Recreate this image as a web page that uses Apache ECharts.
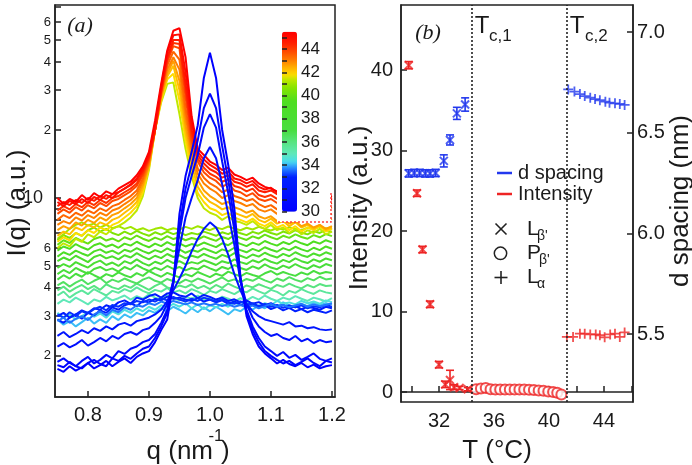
<!DOCTYPE html>
<html><head><meta charset="utf-8">
<script src="https://cdn.jsdelivr.net/npm/echarts@6/dist/echarts.min.js"></script>
<style>html,body{margin:0;padding:0;background:#fff}#c{width:692px;height:465px}</style>
</head><body><div id="c"></div>
<script>
// ---------- panel (a): I(q) curves ----------
const q = [0.75,0.76,0.77,0.78,0.79,0.80,0.81,0.82,0.83,0.84,0.85,0.86,0.87,0.88,0.89,0.90,0.91,0.92,0.93,0.94,0.95,0.96,0.97,0.98,0.99,1.00,1.01,1.02,1.03,1.04,1.05,1.06,1.07,1.08,1.09,1.10,1.11,1.12,1.13,1.14,1.15,1.16,1.17,1.18,1.19,1.20];

const I29_8 = [1.75,1.70,1.80,1.72,1.78,1.86,1.76,1.82,1.90,1.80, 1.88,1.95,1.86,1.98,2.05,2.10,2.30,2.60,2.90,4.20, 8.5,12.5,16,21,34,44,34,20,14,9.0, 4.5,3.0,2.5,2.2,2.05,1.95,1.85,1.92,1.84,1.80, 1.86,1.78,1.83,1.76,1.80,1.82];
const I30_4 = [1.82,1.78,1.88,1.80,1.76,1.86,1.92,1.84,1.80,1.95, 1.90,2.00,1.94,2.05,2.15,2.20,2.40,2.70,3.10,4.20, 7.5,11.0,14.0,18.0,25.0,29.0,25.0,17.0,12.0,8.0, 4.4,3.1,2.6,2.3,2.1,2.0,1.92,1.85,1.90,1.82, 1.88,1.95,1.86,1.80,1.90,1.87];
const I30_8 = [1.88,1.95,1.86,1.80,1.90,1.98,1.85,1.92,2.02,1.95, 2.10,2.04,2.15,2.20,2.30,2.35,2.50,2.80,3.20,4.30, 7.0,10.0,12.5,15.5,20.5,23.5,20.5,14.5,10.5,7.2, 4.3,3.2,2.7,2.4,2.2,2.1,2.0,2.08,1.96,2.02, 1.92,1.98,2.05,1.94,1.90,1.95];
const I31_3 = [2.20,2.28,2.18,2.25,2.35,2.22,2.30,2.40,2.32,2.45, 2.38,2.50,2.55,2.48,2.60,2.65,2.80,3.00,3.40,4.30, 6.0,8.2,10.0,12.0,15.0,16.8,15.0,11.5,8.5,6.2, 4.3,3.4,2.95,2.7,2.55,2.45,2.50,2.40,2.35,2.45, 2.32,2.38,2.28,2.35,2.30,2.32];
const I31_85 = [2.45,2.55,2.42,2.50,2.60,2.52,2.65,2.58,2.70,2.62, 2.75,2.80,2.72,2.85,2.90,2.95,3.05,3.20,3.50,3.90, 4.40,5.00,5.80,6.60,7.30,7.80,7.40,6.60,5.60,4.60, 3.90,3.40,3.15,3.00,2.90,2.85,2.80,2.75,2.82,2.70, 2.72,2.65,2.68,2.62,2.60,2.62];
const I32_4 = [3.00,3.10,2.95,3.05,3.18,3.10,3.25,3.20,3.35,3.28, 3.45,3.52,3.40,3.62,3.55,3.68,3.75,3.62,3.78,3.82, 3.70,3.65,3.78,3.60,3.72,3.65,3.55,3.62,3.50,3.56, 3.45,3.52,3.40,3.46,3.35,3.42,3.30,3.36,3.25,3.32, 3.22,3.30,3.26,3.20,3.30,3.25];
const I32_7 = [2.90,2.80,2.95,3.05,2.92,3.10,3.02,3.18,3.10,3.28, 3.20,3.35,3.42,3.32,3.50,3.45,3.58,3.52,3.66,3.58, 3.62,3.55,3.50,3.60,3.48,3.55,3.45,3.52,3.40,3.48, 3.38,3.30,3.40,3.28,3.35,3.22,3.30,3.18,3.26,3.15, 3.22,3.12,3.20,3.15,3.10,3.18];
const I33_1 = [3.05,2.95,3.12,3.00,3.15,3.08,3.22,3.30,3.18,3.36, 3.30,3.42,3.38,3.50,3.45,3.55,3.48,3.60,3.52,3.65, 3.55,3.48,3.58,3.50,3.62,3.55,3.48,3.56,3.46,3.40, 3.48,3.38,3.42,3.32,3.40,3.30,3.36,3.26,3.34,3.28, 3.35,3.25,3.32,3.28,3.36,3.30];
const I33_6 = [2.85,2.95,2.80,2.92,3.00,2.88,3.05,3.15,3.02,3.20, 3.12,3.28,3.20,3.35,3.30,3.42,3.36,3.48,3.40,3.50, 3.44,3.38,3.45,3.36,3.42,3.35,3.40,3.32,3.38,3.30, 3.36,3.28,3.34,3.25,3.32,3.40,3.30,3.36,3.28,3.34, 3.40,3.30,3.38,3.32,3.36,3.42];
const I34_1 = [2.90,2.75,2.85,2.70,2.82,2.95,2.78,2.90,2.80,3.00, 2.88,3.05,2.95,3.10,3.02,3.18,3.10,3.25,3.15,3.30, 3.20,3.08,3.25,3.12,3.28,3.15,3.30,3.18,3.05,3.22, 3.15,3.30,3.20,3.35,3.25,3.40,3.30,3.45,3.35,3.28, 3.40,3.32,3.45,3.35,3.42,3.38];
const I34_5 = [3.10,2.95,3.05,2.90,3.00,3.12,2.98,3.08,2.95,3.15, 3.05,3.20,3.10,3.25,3.15,3.30,3.20,3.35,3.28,3.40, 3.30,3.42,3.25,3.38,3.22,3.35,3.28,3.40,3.30,3.45, 3.35,3.48,3.38,3.30,3.42,3.35,3.50,3.40,3.45,3.38, 3.50,3.42,3.48,3.40,3.52,3.46];
const I35_0 = [3.40,3.55,3.45,3.62,3.50,3.38,3.55,3.48,3.65,3.52, 3.60,3.70,3.55,3.68,3.58,3.75,3.62,3.55,3.70,3.60, 3.52,3.65,3.58,3.70,3.55,3.62,3.50,3.66,3.58,3.48, 3.60,3.52,3.65,3.55,3.70,3.58,3.50,3.62,3.55,3.68, 3.58,3.50,3.62,3.56,3.48,3.60];
const I35_5 = [3.70,3.85,3.62,3.78,3.90,3.75,3.95,3.82,3.70,3.88, 3.80,3.95,3.85,4.02,3.88,3.78,3.92,3.85,4.00,3.82, 3.90,3.78,3.95,3.85,3.72,3.88,3.80,3.95,3.85,3.75, 3.90,3.82,3.98,3.86,3.76,3.92,3.84,3.70,3.88,3.80, 3.95,3.84,3.76,3.90,3.82,3.78];
const I36_0 = [3.90,4.05,3.85,4.00,4.12,3.95,4.08,3.92,4.15,4.02, 3.95,4.10,4.00,4.18,4.05,3.92,4.08,4.20,4.02,3.95, 4.10,4.02,4.15,3.98,4.08,3.95,4.12,4.00,4.18,4.05, 3.95,4.10,4.02,4.15,4.05,3.96,4.12,4.04,4.18,4.06, 3.98,4.12,4.02,4.16,4.08,4.10];
const I36_5 = [4.10,4.25,4.05,4.22,4.35,4.15,4.30,4.42,4.20,4.35, 4.25,4.40,4.28,4.18,4.35,4.45,4.30,4.22,4.38,4.28, 4.20,4.35,4.25,4.40,4.30,4.18,4.32,4.45,4.28,4.36, 4.24,4.38,4.30,4.44,4.32,4.22,4.40,4.30,4.46,4.34, 4.26,4.42,4.32,4.48,4.36,4.40];
const I37_0 = [4.35,4.55,4.40,4.62,4.48,4.70,4.55,4.42,4.60,4.50, 4.68,4.55,4.45,4.65,4.52,4.75,4.60,4.48,4.66,4.55, 4.45,4.60,4.50,4.70,4.58,4.46,4.62,4.52,4.72,4.60, 4.50,4.66,4.56,4.48,4.64,4.75,4.58,4.70,4.60,4.52, 4.68,4.58,4.76,4.62,4.70,4.65];
const I37_5 = [4.60,4.80,4.65,4.90,4.75,4.62,4.85,4.95,4.78,4.88, 4.72,4.95,4.82,5.05,4.88,4.75,4.92,4.80,5.00,4.85, 4.95,4.78,4.90,4.82,5.02,4.88,4.76,4.95,4.85,5.05, 4.90,4.80,4.98,4.86,5.08,4.92,4.84,5.02,4.90,5.10, 4.94,4.85,5.04,4.92,5.10,5.00];
const I38_0 = [4.90,5.10,4.95,5.20,5.05,4.92,5.15,5.28,5.05,5.18, 5.00,5.25,5.12,5.35,5.15,5.02,5.22,5.10,5.32,5.15, 5.25,5.08,5.20,5.12,5.30,5.18,5.05,5.25,5.15,5.35, 5.20,5.10,5.30,5.18,5.38,5.22,5.12,5.32,5.20,5.40, 5.25,5.15,5.35,5.22,5.40,5.30];
const I38_5 = [5.25,5.45,5.30,5.55,5.38,5.20,5.48,5.60,5.40,5.52, 5.35,5.58,5.45,5.70,5.50,5.35,5.55,5.42,5.65,5.48, 5.58,5.40,5.55,5.45,5.65,5.50,5.38,5.60,5.48,5.70, 5.55,5.42,5.62,5.50,5.72,5.56,5.45,5.66,5.52,5.75, 5.58,5.48,5.68,5.55,5.75,5.62];
const I39_0 = [5.50,5.75,5.60,5.85,5.68,5.55,5.80,5.92,5.72,5.85, 5.65,5.90,5.78,6.00,5.82,5.68,5.88,5.75,5.98,5.80, 5.92,5.72,5.88,5.78,5.98,5.84,5.70,5.92,5.80,6.02, 5.88,5.75,5.95,5.82,6.05,5.90,5.78,6.00,5.86,6.08, 5.92,5.80,6.02,5.88,6.10,5.96];
const I39_5 = [5.85,6.10,5.95,6.25,6.05,5.90,6.18,6.30,6.08,6.22, 6.02,6.28,6.15,6.40,6.20,6.05,6.28,6.12,6.38,6.18, 6.30,6.10,6.25,6.15,6.35,6.20,6.06,6.30,6.18,6.42, 6.26,6.12,6.34,6.20,6.45,6.28,6.15,6.38,6.24,6.48, 6.30,6.18,6.42,6.28,6.50,6.36];
const I40_0 = [6.20,6.50,6.32,6.65,6.45,6.28,6.58,6.72,6.48,6.62, 6.42,6.70,6.55,6.82,6.60,6.45,6.68,6.52,6.78,6.58, 6.70,6.50,6.65,6.55,6.76,6.60,6.46,6.72,6.58,6.84, 6.66,6.52,6.76,6.62,6.88,6.70,6.56,6.80,6.66,6.90, 6.72,6.60,6.85,6.70,6.92,6.78];
const I40_5 = [6.50,6.85,6.65,7.00,6.80,7.20,7.40,7.10,7.30,7.00, 6.85,7.10,6.90,7.15,6.95,6.80,7.05,6.88,7.10,6.92, 7.05,6.85,7.00,6.90,7.10,6.95,6.80,7.05,6.92,7.15, 6.98,6.85,7.08,6.95,7.18,7.00,6.88,7.10,6.96,7.20, 7.02,6.90,7.14,7.00,7.22,7.08];
const I41_0 = [6.60,6.90,7.30,7.60,7.80,7.55,7.70,7.40,7.60,7.35, 7.50,7.30,7.45,7.20,7.35,7.15,7.30,7.40,7.20,7.35, 7.25,7.45,7.30,7.50,7.35,7.20,7.40,7.28,7.48,7.32, 7.20,7.38,7.25,7.45,7.30,7.18,7.36,7.25,7.42,7.30, 7.20,7.38,7.28,7.45,7.32,7.40];
const I41_4 = [6.00,6.30,6.10,6.60,6.40,6.90,6.70,7.10,6.90,7.30, 7.50,7.80,8.20,8.80,10.2,13.3,20.0,26.5,32.0,32.5, 23.5,16.5,12.5,10.0,9.0,8.6,8.4,8.0,8.3,7.9, 7.8,7.6,7.9,7.5,7.3,7.6,7.2,7.4,7.0,7.3, 6.9,7.2,7.0,7.3,6.9,7.1];
const I41_8 = [6.40,6.70,6.50,7.00,6.80,7.20,7.00,7.40,7.20,7.60, 7.80,8.20,8.60,9.20,10.6,13.6,20.0,27.0,33.5,35.5, 27.0,18.0,13.0,10.5,9.6,9.0,8.8,8.4,8.6,8.2, 8.0,7.8,8.1,7.7,7.5,7.8,7.4,7.6,7.2,7.5, 7.1,7.4,7.2,7.5,7.1,7.3];
const I42_2 = [6.80,7.10,6.90,7.40,7.20,7.60,7.40,7.80,7.60,8.00, 8.20,8.60,9.00,9.60,11.0,13.8,20.0,27.5,34.5,38.5, 30.0,19.5,14.0,11.2,10.2,9.6,9.3,8.9,9.1,8.6, 8.4,8.2,8.5,8.0,7.8,8.1,7.7,7.9,7.5,7.8, 7.4,7.6,7.3,7.6,7.2,7.4];
const I42_6 = [7.20,7.50,7.30,7.80,7.55,8.00,7.75,8.20,7.95,8.40, 8.60,9.00,9.40,10.0,11.4,14.0,20.0,28.0,35.5,40.5, 33.0,21.0,15.0,12.0,10.8,10.2,9.8,9.4,9.6,9.1, 8.9,8.6,8.8,8.3,8.1,8.3,7.9,8.1,7.7,7.9, 7.5,7.7,7.4,7.6,7.3,7.5];
const I43_0 = [7.60,7.90,7.70,8.20,7.95,8.40,8.15,8.60,8.35,8.80, 9.00,9.40,9.80,10.4,11.8,14.2,20.0,28.5,37.0,42.0, 37.0,23.0,16.0,12.8,11.6,11.0,10.6,10.0,10.3,9.7, 9.5,9.2,9.4,8.9,8.7,8.9,8.5,8.7,8.3,8.5, 8.1,8.3,8.0,8.2,7.9,8.1];
const I43_4 = [8.00,8.40,8.15,8.60,8.35,8.80,8.55,9.00,8.75,9.20, 9.40,9.80,10.2,10.8,12.2,14.5,20.0,29.0,38.5,44.5, 41.0,25.0,17.0,13.5,12.3,11.6,11.2,10.6,10.9,10.2, 10.0,9.7,9.9,9.4,9.1,9.3,8.9,9.1,8.7,8.9, 8.5,8.7,8.4,8.6,8.3,8.5];
const I43_8 = [8.50,8.90,8.60,9.10,8.80,9.30,9.00,9.50,9.20,9.70, 9.90,10.3,10.7,11.3,12.6,14.8,20.0,29.5,40.0,47.0, 46.0,28.0,18.0,14.5,13.0,12.3,11.9,11.2,11.6,10.8, 10.6,10.2,10.5,9.9,9.7,9.9,9.5,9.7,9.3,9.5, 9.1,9.3,9.0,9.2,8.9,9.1];
const I44_2 = [8.80,9.20,8.90,9.40,9.10,9.60,9.30,9.80,9.50,10.0, 10.2,10.6,11.0,11.6,12.9,15.0,20.0,29.5,41.0,48.5, 48.0,30.0,19.0,15.0,13.6,12.8,12.4,11.8,12.1,11.3, 11.1,10.7,11.0,10.3,10.1,10.3,9.9,10.1,9.7,9.9, 9.5,9.7,9.4,9.6,9.3,9.5];
const I44_6 = [9.20,9.60,9.30,9.80,9.50,10.0,9.70,10.2,9.90,10.4, 10.6,11.0,11.4,12.0,13.2,15.2,20.0,30.0,42.0,50.0, 50.0,32.0,20.0,15.5,14.2,13.4,13.0,12.3,12.6,11.8, 11.6,11.2,11.5,10.8,10.6,10.8,10.4,10.6,10.2,10.4, 10.0,10.2,9.9,10.1,9.8,10.0];
const I45_0 = [9.60,9.20,9.70,9.40,9.90,9.50,10.1,9.80,10.3,10.0, 10.6,11.0,11.5,12.2,13.5,15.6,21.0,31.0,44.0,52.5, 53.0,36.0,21.5,16.0,14.8,14.0,13.5,12.8,13.1,12.2, 12.0,11.6,11.9,11.2,10.9,11.1,10.6,10.8,10.4,10.6, 10.2,10.4,10.1,10.3,10.0,10.2];
const I45_5 = [10.0,9.40,9.90,9.60,10.3,9.80,10.5,10.1,10.7,10.4, 11.0,11.4,11.8,12.6,13.8,16.0,22.0,32.0,45.0,55.0, 56.5,42.0,23.0,16.5,15.5,14.5,14.0,13.3,13.6,12.7, 12.4,12.0,12.3,11.6,11.2,11.0,10.7,10.4,10.6,10.2, 10.4,10.0,10.3,9.9,10.1,9.8];

const curveTemps = [29.8,30.4,30.8,31.3,31.85,32.4,32.7,33.1,33.6,34.1,34.5,35.0,35.5,36.0,36.5,37.0,37.5,38.0,38.5,39.0,39.5,40.0,40.5,41.0,41.4,41.8,42.2,42.6,43.0,43.4,43.8,44.2,44.6,45.0,45.5];
const curveData = [I29_8,I30_4,I30_8,I31_3,I31_85,I32_4,I32_7,I33_1,I33_6,I34_1,I34_5,I35_0,I35_5,I36_0,I36_5,I37_0,I37_5,I38_0,I38_5,I39_0,I39_5,I40_0,I40_5,I41_0,I41_4,I41_8,I42_2,I42_6,I43_0,I43_4,I43_8,I44_2,I44_6,I45_0,I45_5];

// axis ticks / labels panel (a)
const qTicks = [0.8,0.9,1.0,1.1,1.2];
const iTicks = [2,3,4,5,6,7,8,9,10,20,30,40,50,60,70];
const iLabels = [2,3,4,5,6,10,20,30,40,50,60];
const cbTicks = [30,31,32,33,34,35,36,37,38,39,40,41,42,43,44,45];
const cbLabels = [30,32,34,36,38,40,42,44];

// ---------- panel (b) ----------
const tLb = [29.8,30.4,30.8,31.35,32.0,32.45,32.8,33.1,33.5,34.1];
const intLb = [40.6,24.7,17.7,10.9,3.4,0.95,1.5,0.6,0.5,0.35];
const intLbErr = [0.45,0.4,0.4,0.4,0.4,0.4,1.2,0.3,0.2,0.2];
const tPb = [34.7,35.05,35.4,35.75,36.1,36.45,36.8,37.15,37.5,37.85,38.2,38.55,38.9,39.25,39.6,39.95,40.3,40.6,40.9];
const intPb = [0.33,0.45,0.5,0.35,0.3,0.3,0.3,0.3,0.3,0.3,0.3,0.28,0.25,0.2,0.15,0.05,0.0,-0.1,-0.3];
const tLa = [41.3,41.75,42.25,42.6,43.0,43.4,43.7,44.05,44.45,44.8,45.15,45.5];
const intLa = [6.85,6.85,7.25,7.25,7.15,7.15,7.05,6.8,7.15,7.25,6.85,7.4];
const tDLb = [29.8,30.2,30.6,31.0,31.35,31.75,32.35,32.8,33.3,33.9];
const dLb = [6.298,6.300,6.300,6.298,6.298,6.300,6.360,6.464,6.596,6.640];
const dLbErr = [0.018,0.018,0.018,0.018,0.018,0.018,0.03,0.025,0.03,0.033];
const tDLa = [41.4,41.85,42.25,42.6,43.0,43.35,43.7,44.1,44.4,44.8,45.15,45.5];
const dLa = [6.715,6.704,6.692,6.682,6.674,6.667,6.661,6.654,6.649,6.646,6.643,6.638];
const tcLines = [34.4, 41.3];
const tTicks = [30,32,34,36,38,40,42,44,46];
const tLabels = [32,36,40,44];
const intTicks = [0,10,20,30,40];
const dTicks = [5.5,6.0,6.5,7.0];

curveData.forEach((a,i)=>{ if(a.length!==q.length) throw new Error('curve '+curveTemps[i]+' has '+a.length); });

// ---------- styling helpers ----------
const FONT = '"Liberation Sans", Arial, sans-serif';
const TXT = '#1a1a1a';
const RED = '#ee2424', BLUE = '#2238ee';
const cStops = [[30,'#0000ff'],[33.0,'#0022ff'],[33.8,'#2a90ff'],[34.3,'#48dcee'],[35.0,'#60e8b8'],[36.0,'#58e480'],[37.0,'#48de40'],[39.5,'#4ede20'],[40.7,'#88e400'],[41.4,'#c0e800'],[41.8,'#ffdc00'],[42.4,'#ffb000'],[43.0,'#ff8000'],[43.8,'#ff4a00'],[44.6,'#ff1a00'],[45.5,'#ff0000']];
function hex2rgb(h){return [parseInt(h.slice(1,3),16),parseInt(h.slice(3,5),16),parseInt(h.slice(5,7),16)];}
function tColor(t){
  if(t<=cStops[0][0]) return cStops[0][1];
  for(let k=1;k<cStops.length;k++){
    if(t<=cStops[k][0]){
      const a=hex2rgb(cStops[k-1][1]), b=hex2rgb(cStops[k][1]);
      const f=(t-cStops[k-1][0])/(cStops[k][0]-cStops[k-1][0]);
      return 'rgb('+a.map((v,j)=>Math.round(v+(b[j]-v)*f)).join(',')+')';
    }
  }
  return cStops[cStops.length-1][1];
}
const vmColors = []; for(let k=0;k<=62;k++) vmColors.push(tColor(30+15.5*k/62));

const X_PATH = 'path://M0,0L10,10M10,0L0,10';
const P_PATH = 'path://M5,0L5,10M0,5L10,5';

const axLine = {show:true, lineStyle:{color:'#222', width:1.5}};
const tickIn = (vals)=>({show:true, inside:true, length:6, customValues:vals, lineStyle:{color:'#222', width:1.5}});

// ---------- series ----------
const series = [];
const order = [];
for(let i=11;i<=23;i++) order.push(i);
order.push(9,10);
for(let i=24;i<=34;i++) order.push(i);
order.push(5,6,7,8,4,3,2,1,0);
order.forEach(i=>{
  series.push({type:'line', xAxisIndex:0, yAxisIndex:0, symbol:'none', silent:true,
    data:q.map((x,k)=>[x,curveData[i][k]]),
    lineStyle:{width:2, color:tColor(curveTemps[i])}});
});

function errSeries(xs, ys, errs, color, yIdx){
  return {type:'custom', xAxisIndex:1, yAxisIndex:yIdx, silent:true, z:3,
    data: xs.map((x,i)=>[x, ys[i]-errs[i], ys[i]+errs[i]]),
    encode:{x:0, y:[1,2]},
    renderItem:(params, api)=>{
      const x=api.value(0);
      const lo=api.coord([x, api.value(1)]), hi=api.coord([x, api.value(2)]);
      const w=4, st={stroke:color, lineWidth:1.6};
      return {type:'group', children:[
        {type:'line', shape:{x1:lo[0],y1:lo[1],x2:hi[0],y2:hi[1]}, style:st},
        {type:'line', shape:{x1:lo[0]-w,y1:lo[1],x2:lo[0]+w,y2:lo[1]}, style:st},
        {type:'line', shape:{x1:hi[0]-w,y1:hi[1],x2:hi[0]+w,y2:hi[1]}, style:st}]};
    }};
}
const zip = (a,b)=>a.map((v,i)=>[v,b[i]]);
series.push({type:'scatter', xAxisIndex:1, yAxisIndex:1, symbol:X_PATH, symbolSize:8, z:4,
  data:zip(tLb,intLb), itemStyle:{color:RED, borderColor:RED, borderWidth:2}});
series.push(errSeries(tLb,intLb,intLbErr,RED,1));
series.push({type:'scatter', xAxisIndex:1, yAxisIndex:1, symbol:'emptyCircle', symbolSize:10, z:4,
  data:zip(tPb,intPb), itemStyle:{color:RED, borderColor:RED, borderWidth:1.4},
  markLine:{silent:true, symbol:['none','none'], label:{show:false},
    lineStyle:{color:'#222', width:1.6, type:[2,2]}, data:tcLines.map(v=>({xAxis:v}))}});
series.push({type:'scatter', xAxisIndex:1, yAxisIndex:1, symbol:P_PATH, symbolSize:10, z:4,
  data:zip(tLa,intLa), itemStyle:{color:RED, borderColor:RED, borderWidth:1.8}});
series.push({type:'scatter', xAxisIndex:1, yAxisIndex:2, symbol:X_PATH, symbolSize:8, z:4,
  data:zip(tDLb,dLb), itemStyle:{color:BLUE, borderColor:BLUE, borderWidth:2}});
series.push(errSeries(tDLb,dLb,dLbErr,BLUE,2));
series.push({type:'scatter', xAxisIndex:1, yAxisIndex:2, symbol:P_PATH, symbolSize:10, z:4,
  data:zip(tDLa,dLa), itemStyle:{color:BLUE, borderColor:BLUE, borderWidth:1.8}});
// dummy series carrying the colour bar
series.push({type:'scatter', xAxisIndex:2, yAxisIndex:3, data:[], silent:true});
const cbSeriesIndex = series.length-1;

// ---------- texts ----------
function txt(s, x, y, font, opt){
  opt = opt||{};
  return {type:'text', x:x, y:y, rotation:opt.rot||0, z:20, silent:true,
    style:{text:s, x:0, y:0, font:font, fill:opt.fill||TXT,
      textAlign:opt.align||'center', align:opt.align||'center',
      textVerticalAlign:'middle', verticalAlign:'middle'}};
}
const F26 = '26px '+FONT, F20 = '20px '+FONT;
const graphic = [
  // white box behind colour bar with partially visible red dotted border
  {type:'rect', z:6, silent:true, shape:{x:277, y:20, width:54, height:202}, style:{fill:'#fff'}},
  {type:'polyline', z:7, silent:true, shape:{points:[[331,193],[331,222],[277,222]]}, style:{stroke:'#ff4040', lineWidth:1.5, lineDash:[2,2], fill:null}},
  txt('I(q) (a.u.)', 18, 203, F26, {rot:Math.PI/2}),
  txt('q (nm', 213, 452, F26, {align:'right'}),
  txt('-1', 216, 436, '17px '+FONT),
  txt(')', 221, 452, F26, {align:'left'}),
  txt('(a)', 80, 26, 'italic 22px "Liberation Serif", serif'),
  txt('(b)', 428, 33, 'italic 22px "Liberation Serif", serif'),
  txt('Intensity (a.u.)', 360, 208, F26, {rot:Math.PI/2}),
  txt('d spacing (nm)', 681, 201, F26, {rot:Math.PI/2}),
  txt('T (°C)', 497, 451, F26),
  txt('T', 482, 26.5, '24px '+FONT),
  txt('c,1', 489, 36, '17px '+FONT, {align:'left'}),
  txt('T', 577, 26.5, '24px '+FONT),
  txt('c,2', 585, 36, '17px '+FONT, {align:'left'}),
  // legend
  {type:'line', z:20, silent:true, shape:{x1:497,y1:173,x2:512,y2:173}, style:{stroke:BLUE, lineWidth:2.5}},
  {type:'line', z:20, silent:true, shape:{x1:497,y1:194,x2:512,y2:194}, style:{stroke:RED, lineWidth:2.5}},
  txt('d spacing', 518, 173, F20, {align:'left'}),
  txt('Intensity', 518, 194, F20, {align:'left'}),
  {type:'polyline', z:20, silent:true, shape:{points:[[495.5,223.5],[506.5,234.5]]}, style:{stroke:'#222', lineWidth:1.6}},
  {type:'polyline', z:20, silent:true, shape:{points:[[506.5,223.5],[495.5,234.5]]}, style:{stroke:'#222', lineWidth:1.6}},
  {type:'circle', z:20, silent:true, shape:{cx:500.5, cy:253.3, r:6.2}, style:{stroke:'#222', lineWidth:1.5, fill:'none'}},
  {type:'polyline', z:20, silent:true, shape:{points:[[501,271],[501,284]]}, style:{stroke:'#222', lineWidth:1.6}},
  {type:'polyline', z:20, silent:true, shape:{points:[[494.5,277.5],[507.5,277.5]]}, style:{stroke:'#222', lineWidth:1.6}},
  txt('L', 527, 229, '21px '+FONT, {align:'left'}),
  txt('β\'', 537, 236, '14px '+FONT, {align:'left'}),
  txt('P', 527, 253, '21px '+FONT, {align:'left'}),
  txt('β\'', 539, 260, '14px '+FONT, {align:'left'}),
  txt('L', 527, 277, '21px '+FONT, {align:'left'}),
  txt('α', 537, 284, '14px '+FONT, {align:'left'})
];

const option = {
  animation:false,
  backgroundColor:'#fff',
  grid:[
    {left:55, top:5, width:280, height:392, show:true, borderColor:'#222', borderWidth:1.5, backgroundColor:'transparent'},
    {left:401, top:5, width:232, height:397, show:true, borderColor:'#222', borderWidth:1.5, backgroundColor:'transparent'},
    {left:282, top:31.7, width:15, height:180, show:false}
  ],
  xAxis:[
    {type:'value', gridIndex:0, min:0.746, max:1.205, axisLine:axLine, splitLine:{show:false},
      axisTick:tickIn(qTicks),
      axisLabel:{customValues:qTicks, formatter:v=>(+v).toFixed(1), fontSize:20, fontFamily:FONT, color:TXT, margin:8}},
    {type:'value', gridIndex:1, min:29.236, max:46.11, axisLine:axLine, splitLine:{show:false},
      axisTick:tickIn(tTicks),
      axisLabel:{customValues:tLabels, fontSize:20, fontFamily:FONT, color:TXT, margin:9}},
    {type:'value', gridIndex:2, show:false, min:0, max:1}
  ],
  yAxis:[
    {type:'log', logBase:10, gridIndex:0, min:1.315, max:71.5, axisLine:axLine, splitLine:{show:false},
      axisTick:tickIn(iTicks),
      axisLabel:{customValues:iLabels, margin:4, color:TXT, fontFamily:FONT,
        formatter:v=>{const r=Math.round(v); return r===10?'{b|10}':'{s|'+(r>=20?Math.round(r/10):r)+'}';},
        rich:{b:{fontSize:18, fontFamily:FONT, color:TXT, padding:[0,8,0,0]}, s:{fontSize:13, fontFamily:FONT, color:TXT}}}},
    {type:'value', gridIndex:1, position:'left', min:-1.24, max:48.08, axisLine:axLine, splitLine:{show:false},
      axisTick:tickIn(intTicks),
      axisLabel:{customValues:intTicks, fontSize:20, fontFamily:FONT, color:TXT, margin:8}},
    {type:'value', gridIndex:1, position:'right', min:5.163, max:7.134, axisLine:axLine, splitLine:{show:false},
      axisTick:tickIn(dTicks),
      axisLabel:{customValues:dTicks, formatter:v=>(+v).toFixed(1), fontSize:20, fontFamily:FONT, color:TXT, margin:4}},
    {type:'value', gridIndex:2, position:'right', min:30, max:45.5, z:12,
      axisLine:{show:false}, splitLine:{show:false},
      axisTick:{show:true, inside:false, length:5, customValues:cbTicks, lineStyle:{color:'#222', width:1.5}},
      axisLabel:{customValues:cbLabels, fontSize:17, fontFamily:FONT, color:TXT, margin:4}}
  ],
  visualMap:{type:'continuous', seriesIndex:cbSeriesIndex, min:30, max:45.5, calculable:false,
    left:282, top:31.7, itemWidth:15, itemHeight:180, padding:0, text:null, showLabel:false, z:11,
    hoverLink:false, inRange:{color:vmColors}},
  graphic:graphic,
  series:series
};
const chart = echarts.init(document.getElementById('c'), null, {renderer:'canvas'});
chart.setOption(option);
</script></body></html>
